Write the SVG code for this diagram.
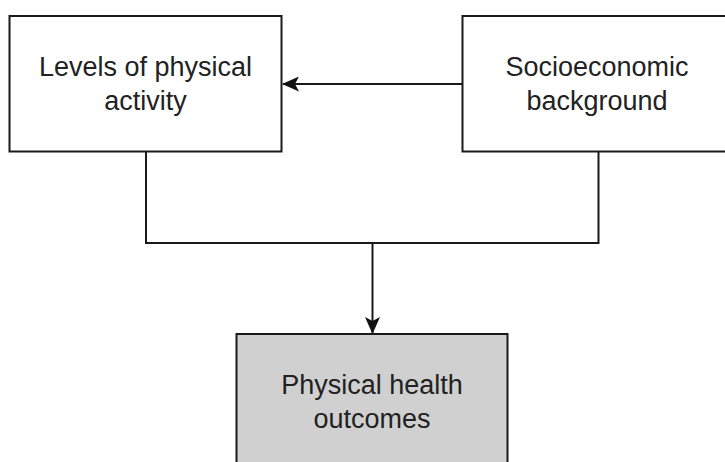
<svg xmlns="http://www.w3.org/2000/svg" width="725" height="462" viewBox="0 0 725 462">
<style>
.box{fill:#ffffff;stroke:#1a1a1a;stroke-width:2}
.gray{fill:#d0d0d0}
.lbl{font-family:"Liberation Sans",Arial,sans-serif;font-size:27px;fill:#222;text-anchor:middle}
.edge{fill:none;stroke:#1a1a1a;stroke-width:2}
</style>
<defs>
<marker id="arr" viewBox="0 0 17 15" refX="16" refY="7.5" markerWidth="17" markerHeight="15" markerUnits="userSpaceOnUse" orient="auto">
<path d="M0,0 L17,7.5 L0,15 L4,7.5 Z" fill="#111"/>
</marker>
</defs>
<rect width="725" height="462" fill="#ffffff"/>
<g id="connectors">
<path class="edge" d="M462.5,84 L283,84" marker-end="url(#arr)"/>
<path class="edge" d="M146,151.5 L146,243 L598.5,243 L598.5,151.5"/>
<path class="edge" d="M372.5,243 L372.5,333" marker-end="url(#arr)"/>
</g>
<g id="levels">
<rect class="box" x="9.5" y="16" width="272" height="135.5"/>
<text class="lbl" x="145.5" y="76">Levels of physical</text>
<text class="lbl" x="145.5" y="110">activity</text>
</g>
<g id="socio">
<rect class="box" x="462.5" y="16" width="270" height="135.5"/>
<text class="lbl" x="597" y="76">Socioeconomic</text>
<text class="lbl" x="597" y="110">background</text>
</g>
<g id="outcomes">
<rect class="box gray" x="236.5" y="334" width="271" height="140"/>
<text class="lbl" x="372" y="394">Physical health</text>
<text class="lbl" x="372" y="428">outcomes</text>
</g>
</svg>
